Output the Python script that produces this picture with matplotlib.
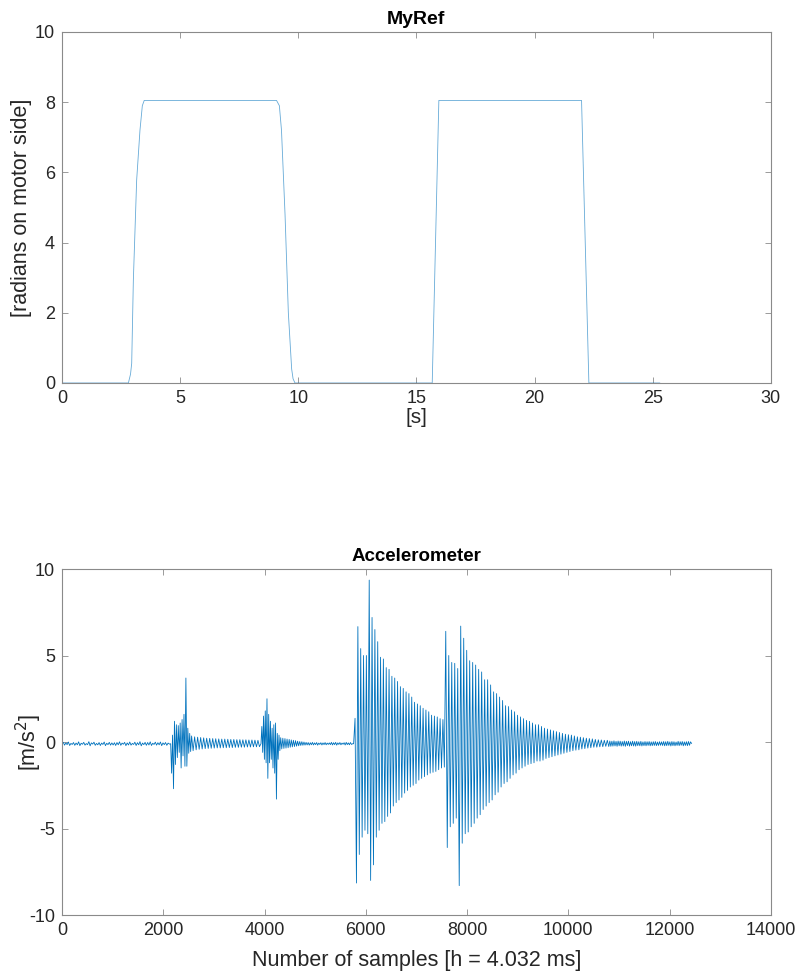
"""MyRef reference trajectory and accelerometer response."""

import matplotlib

matplotlib.use("Agg")
import matplotlib.pyplot as plt
import numpy as np

plt.rcParams["font.family"] = ["Liberation Sans", "DejaVu Sans"]
plt.rcParams["axes.unicode_minus"] = False

# MyRef breakpoints: time [s] and position [rad]
ref_time = [0.0, 2.81, 2.90, 2.95, 3.02, 3.16, 3.30, 3.40, 3.48,
            9.08, 9.20, 9.29, 9.44, 9.58, 9.72, 9.78, 9.86,
            15.67, 15.95, 21.99, 22.30, 25.3]
ref_value = [0.0, 0.0, 0.25, 0.56, 2.93, 5.78, 7.20, 7.90, 8.05,
             8.05, 7.90, 7.20, 4.80, 2.00, 0.40, 0.12, 0.0,
             0.0, 8.05, 8.05, 0.0, 0.0]

# Accelerometer, read segment by segment (sample range, then the values)
quiet_range = (0, 2146)
quiet_values = [-0.10, -0.02, -0.18, -0.05, -0.15, 0.00, -0.20, -0.08, -0.14, -0.03,
                -0.19, -0.06, -0.16, 0.01, -0.21, -0.07, -0.13, -0.02, -0.18, -0.09,
                -0.15, 0.02, -0.22, -0.05, -0.12, -0.01, -0.19, -0.08, -0.16, -0.03,
                -0.20, -0.06, -0.14, 0.00, -0.21, -0.07, -0.15, -0.02, -0.18, -0.05,
                -0.17, -0.04, -0.20, -0.03, -0.16, 0.01, -0.19, -0.06, -0.13, -0.02,
                -0.21, -0.05, -0.17, 0.00, -0.18, -0.08, -0.14, -0.01, -0.20, -0.04,
                -0.16, 0.02, -0.22, -0.06, -0.15, -0.02, -0.19, -0.03, -0.17, 0.01,
                -0.20, -0.07, -0.14, -0.01, -0.18, -0.04, -0.16, 0.00, -0.21, -0.05,
                -0.15, -0.03, -0.19, -0.06, -0.12]

burst1_range = (2146, 2560)
burst1_values = [-0.10, -1.80, 0.40, -2.70, 1.20, -1.30, 1.00, -0.90, 0.95, -0.60,
                 1.10, -1.50, 1.30, -0.80, 1.60, -1.40, 3.70, -1.40, 0.80, -0.65,
                 0.50, -0.55]

ring1_range = (2560, 3930)
ring1_values = [0.35, -0.50, 0.30, -0.45, 0.28, -0.42, 0.26, -0.40, 0.24, -0.38,
                0.22, -0.37, 0.21, -0.36, 0.20, -0.35, 0.19, -0.34, 0.18, -0.34,
                0.17, -0.33, 0.17, -0.33, 0.16, -0.32, 0.15, -0.32, 0.15, -0.31,
                0.14, -0.31, 0.14, -0.30, 0.13, -0.30, 0.13, -0.29, 0.12, -0.29,
                0.12, -0.28, 0.11, -0.28, 0.10, -0.27]

burst2_range = (3930, 4320)
burst2_values = [-0.10, 0.90, -0.60, 1.50, -1.00, 1.80, -1.20, 2.50, -2.10, 1.60,
                 -1.20, 1.20, -1.00, 0.80, -1.50, 1.00, -1.80, 1.10, -3.30, 0.50,
                 -1.00, 0.40, -0.50]

ring2_range = (4320, 5760)
ring2_values = [0.25, -0.40, 0.22, -0.37, 0.20, -0.35, 0.17, -0.33, 0.15, -0.30,
                0.12, -0.28, 0.10, -0.26, 0.08, -0.24, 0.05, -0.22, 0.03, -0.20,
                0.02, -0.19, 0.00, -0.18, -0.02, -0.17, -0.03, -0.18, -0.04, -0.16,
                -0.02, -0.17, -0.05, -0.15, -0.03, -0.18, -0.06, -0.14, -0.04, -0.17,
                -0.05, -0.15, -0.03, -0.16, -0.06, -0.14, -0.05, -0.15, -0.02, -0.17,
                -0.04, -0.15, -0.02, -0.18, -0.05, -0.14, -0.03, -0.16, -0.06, -0.13,
                -0.04, -0.17, -0.02, -0.15, -0.05, -0.16, -0.03, -0.14, -0.10]

big1_range = (5760, 7580)
big1_values = [-0.10, 1.37, -8.15, 6.67, -6.50, 5.40, -5.50, 5.00, -5.10, 5.00,
               -5.30, 9.36, -8.00, 7.20, -7.10, 6.50, -5.50, 5.80, -5.10, 4.90,
               -4.70, 4.80, -4.60, 4.30, -4.30, 4.20, -4.10, 3.80, -3.70, 3.70,
               -3.50, 3.50, -3.35, 3.20, -3.20, 3.10, -2.95, 2.90, -2.80, 2.80,
               -2.60, 2.60, -2.50, 2.30, -2.40, 2.20, -2.20, 2.10, -2.10, 1.95,
               -2.00, 1.85, -1.90, 1.75, -1.80, 1.55, -1.75, 1.50, -1.70, 1.45,
               -1.60, 1.35, -1.50, 1.30, -1.45]

big2_range = (7580, 10800)
big2_values = [6.40, -6.10, 5.00, -4.90, 4.60, -4.70, 4.55, -4.40, 4.25, -8.30,
               6.70, -5.85, 6.00, -5.30, 5.30, -5.20, 4.70, -4.90, 4.60, -4.70,
               4.45, -4.40, 4.20, -4.20, 4.05, -3.90, 3.60, -3.70, 3.60, -3.50,
               3.30, -3.35, 2.90, -3.05, 2.80, -2.90, 2.60, -2.60, 2.40, -2.40,
               2.10, -2.30, 2.05, -2.10, 1.85, -1.90, 1.75, -1.80, 1.55, -1.60,
               1.45, -1.50, 1.35, -1.40, 1.25, -1.30, 1.20, -1.25, 1.10, -1.20,
               1.00, -1.10, 1.00, -1.10, 0.90, -1.05, 0.80, -0.95, 0.75,
               -0.90, 0.70, -0.85, 0.65, -0.80, 0.60, -0.75, 0.55, -0.70, 0.50,
               -0.65, 0.45, -0.60, 0.42, -0.55, 0.40, -0.50, 0.35, -0.47, 0.30,
               -0.45, 0.28, -0.40, 0.25, -0.38, 0.22, -0.35, 0.20, -0.33, 0.18,
               -0.30, 0.15, -0.30, 0.13, -0.28, 0.12, -0.27, 0.10, -0.25, 0.10]

tail_range = (10800, 12435)
tail_values = [-0.26, 0.06, -0.25, 0.05, -0.24, 0.07, -0.23, 0.04, -0.25, 0.06,
               -0.22, 0.05, -0.24, 0.03, -0.23, 0.06, -0.25, 0.04, -0.21, 0.05,
               -0.24, 0.02, -0.22, 0.05, -0.23, 0.03, -0.24, 0.04, -0.21, 0.02,
               -0.22, 0.04, -0.23, 0.01, -0.21, 0.03, -0.22, 0.02, -0.20, 0.03,
               -0.22, 0.01, -0.21, 0.02, -0.20, 0.03, -0.21, 0.00, -0.20, 0.02,
               -0.19, 0.01, -0.20, 0.03, -0.22, 0.02, -0.21, 0.04, -0.20, 0.01,
               -0.23, 0.03, -0.21, 0.02, -0.22, 0.00, -0.20, 0.04, -0.21, 0.02,
               -0.19, 0.03, -0.22, 0.01, -0.20, 0.02, -0.21, 0.03, -0.19, 0.01,
               -0.08]

segments = [
    (quiet_range, quiet_values),
    (burst1_range, burst1_values),
    (ring1_range, ring1_values),
    (burst2_range, burst2_values),
    (ring2_range, ring2_values),
    (big1_range, big1_values),
    (big2_range, big2_values),
    (tail_range, tail_values),
]

acc_x = []
acc_y = []
for i, ((start, stop), values) in enumerate(segments):
    last = i == len(segments) - 1
    acc_x.append(np.linspace(start, stop, len(values), endpoint=last))
    acc_y.append(np.asarray(values))
acc_x = np.concatenate(acc_x)
acc_y = np.concatenate(acc_y)

line_color = "#0072BD"
text_color = "#262626"
spine_color = "#8a8a8a"


def style_axes(ax):
    for spine in ax.spines.values():
        spine.set_color(spine_color)
        spine.set_linewidth(0.8)
    ax.tick_params(direction="in", length=4, width=0.6, color=spine_color,
                   labelcolor=text_color, labelsize=13, pad=5,
                   top=True, right=True)


fig = plt.figure(figsize=(8, 9.75), dpi=100)

ax1 = fig.add_axes([0.0775, 0.6072, 0.886, 0.36])
ax1.plot(ref_time, ref_value, color=line_color, linewidth=0.6, alpha=0.6)
ax1.set_xlim(0, 30)
ax1.set_ylim(0, 10)
ax1.set_xticks(np.arange(0, 31, 5))
ax1.set_yticks(np.arange(0, 11, 2))
ax1.set_title("MyRef", fontsize=14, fontweight="bold", color="black", pad=6)
ax1.set_xlabel("[s]", fontsize=15, color=text_color)
ax1.set_ylabel("[radians on motor side]", fontsize=15.5, color=text_color)
ax1.xaxis.set_label_coords(0.5, -0.072)
ax1.yaxis.set_label_coords(-0.042, 0.5)
style_axes(ax1)

ax2 = fig.add_axes([0.0775, 0.0615, 0.886, 0.3549])
ax2.plot(acc_x, acc_y, color=line_color, linewidth=0.6)
ax2.set_xlim(0, 14000)
ax2.set_ylim(-10, 10)
ax2.set_xticks(np.arange(0, 14001, 2000))
ax2.set_yticks([-10, -5, 0, 5, 10])
ax2.set_title("Accelerometer", fontsize=13.5, fontweight="bold", color="black", pad=6)
ax2.set_xlabel("Number of samples [h = 4.032 ms]", fontsize=15.5, color=text_color)
ax2.set_ylabel("[m/s$^2$]", fontsize=15.5, color=text_color)
ax2.xaxis.set_label_coords(0.5, -0.1)
ax2.yaxis.set_label_coords(-0.026, 0.5)
style_axes(ax2)

fig.savefig("out.png", dpi=100)
plt.close(fig)
